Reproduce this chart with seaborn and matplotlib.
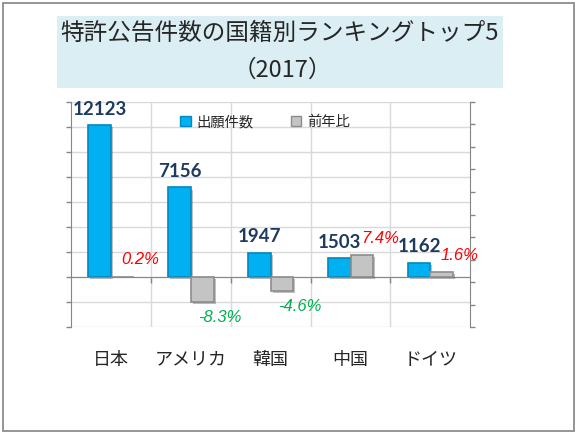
import numpy as np
import pandas as pd
import matplotlib.pyplot as plt
import matplotlib.patheffects as pe
from matplotlib.patches import Rectangle, Patch
import seaborn as sns

# data
countries = ['日本', 'アメリカ', '韓国', '中国', 'ドイツ']
filings = [12123, 7156, 1947, 1503, 1162]
yoy_pct = [0.2, -8.3, -4.6, 7.4, 1.6]
series_names = ['出願件数', '前年比']
title_line1 = '特許公告件数の国籍別ランキングトップ5'
title_line2 = '（2017）'

sns.set_style('white')
cjk = ['Noto Sans CJK JP', 'DejaVu Sans']
plt.rcParams['font.family'] = cjk

blue, blue_edge = '#00B0F0', '#0089BE'
grey, grey_edge = '#C4C4C4', '#8C8C8C'
axis_grey = '#868686'
grid_grey = '#D9D9D9'
palette = {series_names[0]: blue, series_names[1]: grey}

# one long table; each axis gets its own series, the other masked out
df = pd.DataFrame({
    'country': countries * 2,
    'series': [series_names[0]] * len(countries) + [series_names[1]] * len(countries),
    'count': filings + [np.nan] * len(countries),
    'pct': [np.nan] * len(countries) + yoy_pct,
})

W, H = 575, 434
fig = plt.figure(figsize=(W / 100, H / 100), dpi=100)
fig.patch.set_facecolor('white')

# chart frame and title box
fig.add_artist(Rectangle((2.5 / W, 1 - 430.7 / H), (573.7 - 2.5) / W, (430.7 - 3.3) / H,
                         transform=fig.transFigure, fill=False, edgecolor='#8C8C8C', lw=1.3))
fig.add_artist(Rectangle((57 / W, 1 - 88 / H), (503 - 57) / W, (88 - 16) / H,
                         transform=fig.transFigure, facecolor='#DAEEF3', edgecolor='none'))
fig.text(280 / W, 1 - 33 / H, title_line1, ha='center', va='center', fontsize=17)
fig.text(282 / W, 1 - 70 / H, title_line2, ha='center', va='center', fontsize=17)

ax = fig.add_axes([71 / W, 1 - 327.3 / H, (470.3 - 71) / W, (327.3 - 101.7) / H])
ax.patch.set_alpha(0)
ax2 = ax.twinx()

sns.barplot(data=df, x='country', y='count', hue='series', hue_order=series_names,
            order=countries, palette=palette, saturation=1, width=0.57, gap=0,
            dodge=True, errorbar=None, legend=False, ax=ax)
sns.barplot(data=df, x='country', y='pct', hue='series', hue_order=series_names,
            order=countries, palette=palette, saturation=1, width=0.57, gap=0,
            dodge=True, errorbar=None, legend=False, ax=ax2)

shadow = [pe.SimplePatchShadow(offset=(1.5, -1.5), shadow_rgbFace='k', alpha=0.25), pe.Normal()]
for a, ec in ((ax, blue_edge), (ax2, grey_edge)):
    for bar in a.patches:
        bar.set_edgecolor(ec)
        bar.set_linewidth(1.2)
        bar.set_path_effects(shadow)

# value labels
cnt_bars = sorted(ax.patches, key=lambda p: p.get_x())
for bar, v in zip(cnt_bars, filings):
    ax.annotate(str(v), xy=(bar.get_x() + bar.get_width() / 2, bar.get_y() + bar.get_height()),
                xytext=(0, 11.5), textcoords='offset points', ha='center', va='center',
                fontsize=13.5, fontweight='bold', color='#1F3A60', family='Lato')

pct_bars = sorted(ax2.patches, key=lambda p: p.get_x())
for bar, v in zip(pct_bars, yoy_pct):
    ax2.annotate(f'{v:.1f}%', xy=(bar.get_x() + bar.get_width() / 2, bar.get_y() + bar.get_height()),
                 xytext=(13, 12 if v > 0 else -11), textcoords='offset points',
                 ha='center', va='center', fontsize=12, style='italic',
                 family='Liberation Sans', color='#FF0000' if v > 0 else '#00B050')

# axes
ax.set_ylim(-4000, 14000)
ax.set_yticks(np.arange(-4000, 14001, 2000))
ax2.set_ylim(-16.7, 58.5)
ax2.set_yticks(np.linspace(-16.7, 58.5, 11))
ax.set_xlim(-0.5, 4.5)
ax.set_xticks(range(len(countries)))
ax.set_xticklabels(countries)
ax.set_xticks(np.arange(0.5, len(countries) - 1, 1), minor=True)
for a in (ax, ax2):
    a.set_xlabel('')
    a.set_ylabel('')

ax.spines['bottom'].set_position(('data', 0))
ax.spines['bottom'].set_color(axis_grey)
ax.spines['left'].set_color(axis_grey)
ax.spines['top'].set_visible(False)
ax.spines['right'].set_visible(False)
for s in ('left', 'top', 'bottom'):
    ax2.spines[s].set_visible(False)
ax2.spines['right'].set_color(axis_grey)

ax.tick_params(axis='y', which='major', left=True, length=3.6, width=1, color=axis_grey,
               labelleft=False, direction='out')
ax.tick_params(axis='x', which='major', bottom=True, length=0, pad=53, labelsize=13)
ax.tick_params(axis='x', which='minor', bottom=True, length=4.3, width=1, color=axis_grey,
               direction='out')
ax2.tick_params(axis='y', right=True, length=3.6, width=1, color=axis_grey,
                labelright=False, direction='out')
ax2.tick_params(axis='x', which='both', bottom=False, labelbottom=False)

ax.grid(False)
ax2.grid(False)
ax.yaxis.grid(True, which='major', color=grid_grey, lw=1)
ax.xaxis.grid(True, which='minor', color=grid_grey, lw=1)
ax.set_axisbelow(True)

handles = [Patch(facecolor=blue, edgecolor=blue_edge), Patch(facecolor=grey, edgecolor=grey_edge)]
fig.legend(handles, series_names, loc='center', bbox_to_anchor=(265 / W, 1 - 122 / H), ncol=2,
           frameon=False, prop={'family': cjk, 'size': 10.3}, handlelength=0.75,
           handleheight=0.75, handletextpad=0.4, columnspacing=2.6)

fig.savefig('out.png', dpi=100)
